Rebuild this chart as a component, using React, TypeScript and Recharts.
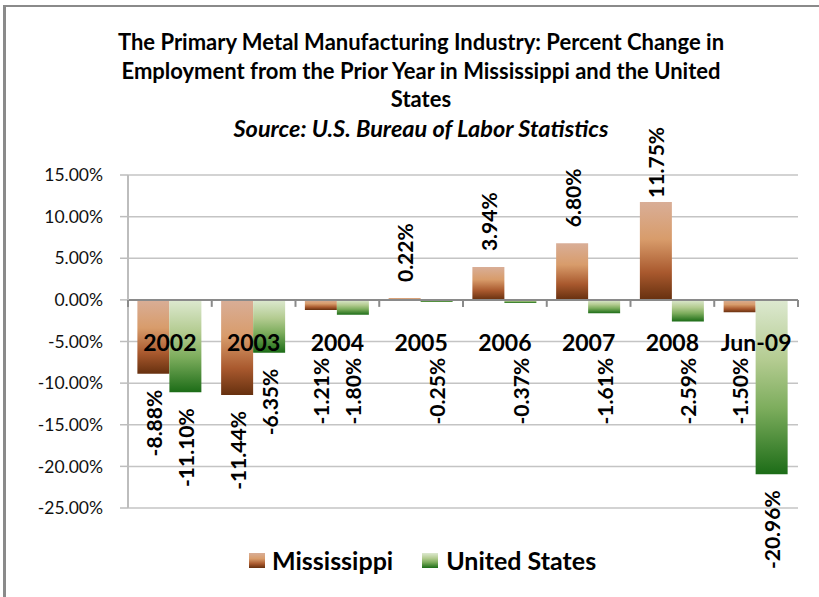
import React from 'react';
import { BarChart, Bar, XAxis, YAxis, CartesianGrid, ReferenceLine, LabelList } from 'recharts';

const categories = ['2002', '2003', '2004', '2005', '2006', '2007', '2008', 'Jun-09'];
const mississippi = [-8.88, -11.44, -1.21, 0.22, 3.94, 6.8, 11.75, -1.5];
const unitedStates = [-11.1, -6.35, -1.8, -0.25, -0.37, -1.61, -2.59, -20.96];
const yTicks = [-25, -20, -15, -10, -5, 0, 5, 10, 15];
const titleLines = [
  'The Primary Metal Manufacturing Industry: Percent Change in',
  'Employment from the Prior Year in Mississippi and the United',
  'States',
];
const subtitle = 'Source: U.S. Bureau of Labor Statistics';
const seriesNames = ['Mississippi', 'United States'];

const data = categories.map((c, i) => ({ category: c, ms: mississippi[i], us: unitedStates[i] }));

const FONT = 'Lato, Carlito, Calibri, "Open Sans", sans-serif';
const W = 819;
const H = 597;
const PLOT_LEFT = 128;
const PLOT_RIGHT = 798;
const PLOT_TOP = 175;
const PLOT_BOTTOM = 508;
const Y_MIN = -25;
const Y_MAX = 15;
const ZERO_Y = PLOT_TOP + ((PLOT_BOTTOM - PLOT_TOP) * Y_MAX) / (Y_MAX - Y_MIN);
const BAND = (PLOT_RIGHT - PLOT_LEFT) / categories.length;

const MS_GRAD = 'linear-gradient(to bottom, #D9AE97 0%, #D89C6B 38%, #A9592E 72%, #66300F 100%)';
const US_GRAD = 'linear-gradient(to bottom, #DDE9D0 0%, #B3CB90 35%, #7DAD5D 62%, #1C6C17 100%)';

const CategoryTick = (props: any) => {
  const { x, payload, index } = props;
  const left = x - BAND / 2;
  return (
    <g>
      <line x1={left} x2={left} y1={ZERO_Y} y2={ZERO_Y + 7} stroke="#8A8A8A" strokeWidth={2} />
      {index === categories.length - 1 && (
        <line x1={x + BAND / 2} x2={x + BAND / 2} y1={ZERO_Y} y2={ZERO_Y + 7} stroke="#8A8A8A" strokeWidth={2} />
      )}
      <text
        x={x}
        y={ZERO_Y + 42}
        textAnchor="middle"
        dominantBaseline="central"
        fontFamily={FONT}
        fontWeight={700}
        fontSize={23}
        fill="#000"
      >
        {payload.value}
      </text>
    </g>
  );
};

const ValueLabel = (props: any) => {
  const vb = props.viewBox || {};
  const x = props.x ?? vb.x;
  const y = props.y ?? vb.y;
  const width = props.width ?? vb.width;
  const height = props.height ?? vb.height;
  const v = Number(props.value);
  if (x == null || y == null || isNaN(v)) return null;
  const top = Math.min(y, y + height);
  const bottom = Math.max(y, y + height);
  const cx = x + width / 2;
  const text = `${v.toFixed(2)}%`;
  let ay: number;
  let anchor: 'start' | 'end';
  if (v >= 0) {
    ay = Math.max(top - 16, ZERO_Y - 102);
    anchor = 'start';
  } else {
    ay = Math.max(bottom + 16, ZERO_Y + 58);
    anchor = 'end';
  }
  return (
    <text
      x={cx}
      y={ay}
      transform={`rotate(-90 ${cx} ${ay})`}
      textAnchor={anchor}
      dominantBaseline="central"
      fontFamily={FONT}
      fontWeight={700}
      fontSize={21}
      fill="#000"
    >
      {text}
    </text>
  );
};

export default function App() {
  return (
    <div
      style={{
        position: 'absolute',
        left: 0,
        top: 0,
        width: W,
        height: H,
        overflow: 'hidden',
        background: '#fff',
        fontFamily: FONT,
      }}
    >
      <div
        style={{
          position: 'absolute',
          left: 3,
          top: 5,
          width: W + 40,
          height: H + 40,
          borderLeft: '3px solid #8A8A8A',
          borderTop: '2px solid #8A8A8A',
          boxSizing: 'border-box',
        }}
      />
      <div
        style={{
          position: 'absolute',
          left: 0,
          top: 28,
          width: 842,
          textAlign: 'center',
          fontWeight: 700,
          fontSize: 22,
          lineHeight: '28.5px',
          color: '#000',
        }}
      >
        {titleLines.map((t) => (
          <div key={t}>{t}</div>
        ))}
        <div style={{ fontStyle: 'italic', fontSize: 23.5 }}>{subtitle}</div>
      </div>
      <div style={{ position: 'absolute', left: 0, top: 0 }}>
        <BarChart
          width={W}
          height={H}
          data={data}
          margin={{ top: PLOT_TOP, right: W - PLOT_RIGHT, bottom: H - PLOT_BOTTOM - 20, left: 0 }}
          barCategoryGap="11.2%"
          barGap={0}
        >
          <defs>
            <linearGradient id="msGrad" x1="0" y1="0" x2="0" y2="1">
              <stop offset="0%" stopColor="#D9AE97" />
              <stop offset="38%" stopColor="#D89C6B" />
              <stop offset="72%" stopColor="#A9592E" />
              <stop offset="100%" stopColor="#66300F" />
            </linearGradient>
            <linearGradient id="usGrad" x1="0" y1="0" x2="0" y2="1">
              <stop offset="0%" stopColor="#DDE9D0" />
              <stop offset="35%" stopColor="#B3CB90" />
              <stop offset="62%" stopColor="#7DAD5D" />
              <stop offset="100%" stopColor="#1C6C17" />
            </linearGradient>
          </defs>
          <CartesianGrid vertical={false} stroke="#C4C4C4" strokeWidth={1.5} />
          <YAxis
            width={PLOT_LEFT}
            domain={[Y_MIN, Y_MAX]}
            ticks={yTicks}
            interval={0}
            tickFormatter={(v: number) => `${v.toFixed(2)}%`}
            axisLine={{ stroke: '#BDBDBD', strokeWidth: 2 }}
            tickLine={{ stroke: '#BDBDBD', strokeWidth: 1.5 }}
            tickSize={8}
            tickMargin={17}
            tick={{ fontFamily: FONT, fontSize: 17.5, fill: '#111' }}
          />
          <Bar dataKey="ms" name={seriesNames[0]} fill="url(#msGrad)" isAnimationActive={false}>
            <LabelList dataKey="ms" content={ValueLabel} />
          </Bar>
          <Bar dataKey="us" name={seriesNames[1]} fill="url(#usGrad)" isAnimationActive={false}>
            <LabelList dataKey="us" content={ValueLabel} />
          </Bar>
          <ReferenceLine y={0} stroke="#8A8A8A" strokeWidth={2} />
          <XAxis
            dataKey="category"
            height={20}
            axisLine={false}
            tickLine={false}
            interval={0}
            tick={CategoryTick}
          />
        </BarChart>
      </div>
      <div
        style={{
          position: 'absolute',
          left: 249,
          top: 545,
          height: 30,
          display: 'flex',
          alignItems: 'center',
          fontWeight: 700,
          fontSize: 25,
          color: '#000',
          whiteSpace: 'nowrap',
        }}
      >
        <div style={{ display: 'flex', alignItems: 'center' }}>
          <span style={{ width: 16, height: 15, background: MS_GRAD, display: 'inline-block', marginRight: 7 }} />
          <span>{seriesNames[0]}</span>
        </div>
        <div style={{ display: 'flex', alignItems: 'center', marginLeft: 29 }}>
          <span style={{ width: 16, height: 15, background: US_GRAD, display: 'inline-block', marginRight: 8 }} />
          <span>{seriesNames[1]}</span>
        </div>
      </div>
    </div>
  );
}
